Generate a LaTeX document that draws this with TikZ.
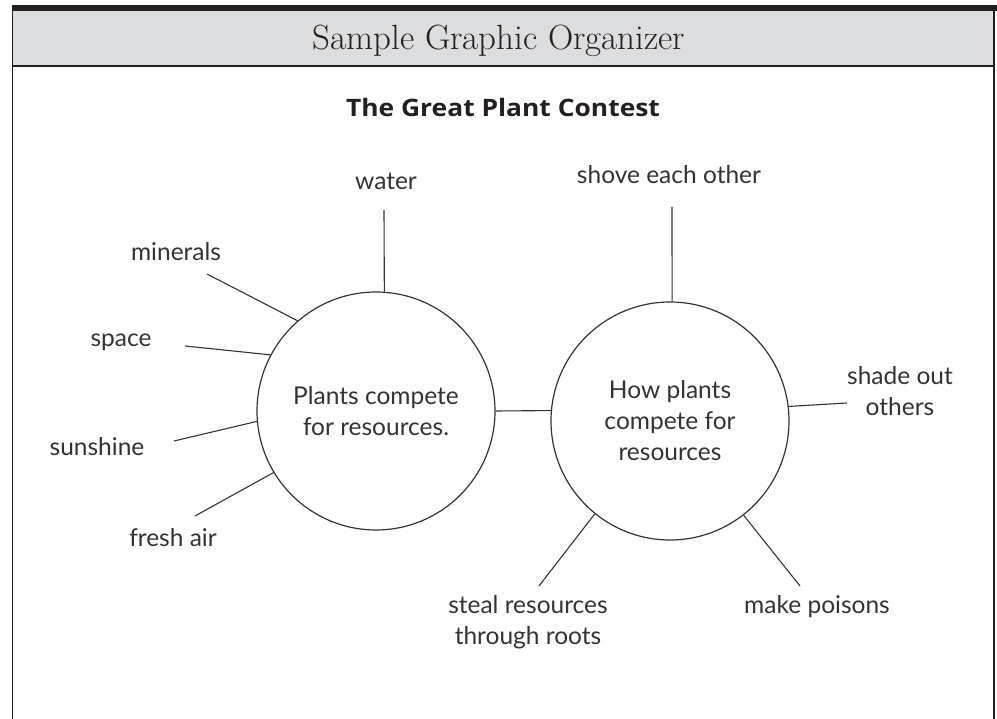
\documentclass[tikz,border=0pt]{standalone}
\usepackage{fontspec}
\newfontfamily\handfont{Lato}
\newfontfamily\boldsans{Open Sans}[FakeStretch=1.1]
\usetikzlibrary{calc}
\definecolor{ink}{HTML}{333333}
\definecolor{hdrgray}{HTML}{DCDDDE}
\definecolor{barblack}{HTML}{231F20}
\begin{document}
\begin{tikzpicture}[x=1pt,y=-1pt,
  hand/.style={font=\handfont\fontsize{24.5}{31}\selectfont, text=ink, inner sep=0pt, align=center},
  spoke/.style={draw=ink, line width=1.1pt},
  bubble/.style={circle, draw=ink, line width=1.2pt, minimum size=238pt, inner sep=0pt, hand},
  frameline/.style={draw=barblack, line width=1.5pt}
]
\useasboundingbox (0,0) rectangle (997,719);
% frame
\fill[barblack] (12,5.5) rectangle (997,11.5);
\fill[hdrgray] (12.5,11.5) rectangle (994,66);
\draw[barblack, line width=1.2pt] (12.5,66) -- (994,66);
\draw[frameline] (12.5,5.5) -- (12.5,719);
\draw[frameline] (994,5.5) -- (994,719);
% titles
\node[font=\fontsize{35}{40}\selectfont, text=barblack, anchor=base, inner sep=0pt] (title) at (499,50) {Sample Graphic Organizer};
\node[font=\boldsans\bfseries\fontsize{24}{28}\selectfont, text=barblack, anchor=base, inner sep=0pt] (subtitle) at (503,117) {The Great Plant Contest};
% circles
\node[bubble] (L) at (376,411) {Plants compete\\for resources.};
\node[bubble] (R) at (670,421) {How plants\\compete for\\resources};
\draw[spoke] (L.east) -- (R.175);
% left labels
\node[hand] (water) at (386,181) {water};
\node[hand] (minerals) at (176,252) {minerals};
\node[hand] (space) at (121,342) {space};
\node[hand] (sunshine) at (97,447) {sunshine};
\node[hand] (fresh) at (173,538) {fresh air};
% right labels
\node[hand] (shove) at (669,175) {shove each other};
\node[hand] (shade) at (900,391.5) {shade out\\others};
\node[hand] (steal) at (528,622) {steal resources\\through roots};
\node[hand] (poison) at (817,607) {make poisons};
% free ends
\coordinate (cw) at (384,210);
\coordinate (cm) at (207,274);
\coordinate (csp) at (185,346);
\coordinate (csu) at (174,441);
\coordinate (cf) at (195,516);
\coordinate (csh) at (672,207);
\coordinate (csd) at (847,403);
\coordinate (cst) at (539,586);
\coordinate (cp) at (800,586);
% spokes
\draw[spoke] (L.86) -- (cw);
\draw[spoke] (L.131.6) -- (cm);
\draw[spoke] (L.152.6) -- (csp);
\draw[spoke] (L.185.3) -- (csu);
\draw[spoke] (L.211.9) -- (cf);
\draw[spoke] (R.89) -- (csh);
\draw[spoke] (R.7.2) -- (csd);
\draw[spoke] (R.231.5) -- (cst);
\draw[spoke] (R.308.5) -- (cp);
\end{tikzpicture}
\end{document}
